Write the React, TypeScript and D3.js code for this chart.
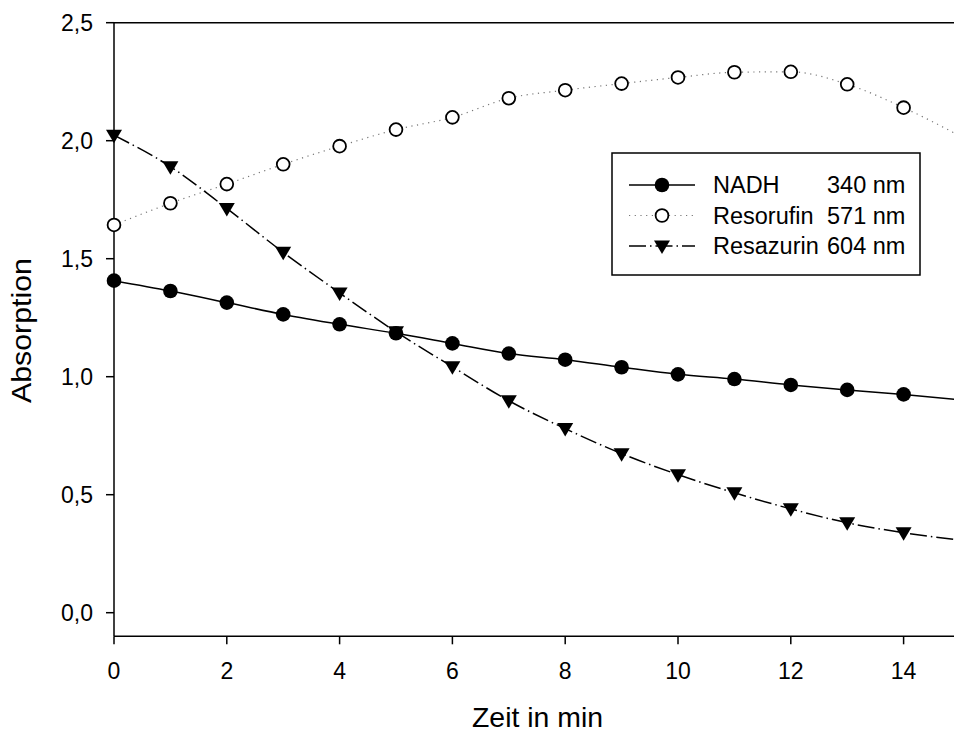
import React from "react";
import * as d3 from "d3";

const times = [0, 1, 2, 3, 4, 5, 6, 7, 8, 9, 10, 11, 12, 13, 14, 15];
const nadh = [1.407, 1.363, 1.314, 1.264, 1.222, 1.184, 1.141, 1.098, 1.072, 1.04, 1.01, 0.99, 0.965, 0.944, 0.925, 0.902];
const resorufin = [1.643, 1.735, 1.816, 1.9, 1.977, 2.047, 2.099, 2.18, 2.214, 2.242, 2.268, 2.29, 2.292, 2.239, 2.14, 2.02];
const resazurin = [2.023, 1.89, 1.713, 1.527, 1.355, 1.19, 1.042, 0.898, 0.78, 0.674, 0.585, 0.508, 0.44, 0.381, 0.339, 0.308];
const xTicks = [0, 2, 4, 6, 8, 10, 12, 14];
const yTicks = [0, 0.5, 1.0, 1.5, 2.0, 2.5];
const legendNames = ["NADH", "Resorufin", "Resazurin"];
const legendWaves = ["340 nm", "571 nm", "604 nm"];

const W = 954;
const H = 734;
const FONT = "'Liberation Sans', Arial, sans-serif";

export default function App() {
  const x = d3.scaleLinear().domain([0, 15]).range([114, 960]);
  const y = d3.scaleLinear().domain([-0.1, 2.5]).range([636.3, 22.7]);
  const fmt = (v: number) => d3.format(".1f")(v).replace(".", ",");

  const mk = (vals: number[]) =>
    d3
      .line<number>()
      .x((_, i) => x(times[i]))
      .y((v) => y(v))
      .curve(d3.curveMonotoneX)(vals) as string;

  const series = [
    { name: "nadh", vals: nadh, dash: undefined as string | undefined, stroke: "#000", sw: 1.5, marker: "dot" },
    { name: "resorufin", vals: resorufin, dash: "1.2,4.5", stroke: "#777", sw: 1.2, marker: "open" },
    { name: "resazurin", vals: resazurin, dash: "17,4,1.5,4", stroke: "#000", sw: 1.5, marker: "tri" },
  ];

  const marker = (kind: string, cx: number, cy: number, key: string) => {
    if (kind === "dot") return <circle key={key} cx={cx} cy={cy} r={7.3} fill="#000" />;
    if (kind === "open")
      return <circle key={key} cx={cx} cy={cy} r={6.4} fill="#fff" stroke="#000" strokeWidth={1.8} />;
    const s = 8;
    return (
      <path
        key={key}
        d={`M${cx - s},${cy - 5.5} L${cx + s},${cy - 5.5} L${cx},${cy + 8} Z`}
        fill="#000"
      />
    );
  };

  const x0 = 114;
  const yAxisBottom = y(-0.1);
  const yTop = y(2.5);

  const legX = 612, legY = 153, legW = 308, legH = 122;
  const rowY = [185, 215.5, 246];

  return (
    <svg
      width={W}
      height={H}
      style={{ position: "absolute", left: 0, top: 0, background: "#fff" }}
      fontFamily={FONT}
    >
      <defs>
        <clipPath id="plot">
          <rect x={x0} y={yTop - 2} width={W - x0} height={yAxisBottom - yTop + 2} />
        </clipPath>
      </defs>
      <rect x={0} y={0} width={W} height={H} fill="#fff" />

      {/* frame lines */}
      <line x1={x0} x2={W} y1={yTop} y2={yTop} stroke="#000" strokeWidth={1.5} />
      <line x1={x0} x2={x0} y1={yTop} y2={yAxisBottom} stroke="#000" strokeWidth={1.5} />
      <line x1={x0} x2={W} y1={yAxisBottom} y2={yAxisBottom} stroke="#000" strokeWidth={1.5} />

      {/* y ticks */}
      {yTicks.map((t) => (
        <g key={"y" + t}>
          <line x1={x0 - 8} x2={x0} y1={y(t)} y2={y(t)} stroke="#000" strokeWidth={1.5} />
          <text x={93} y={y(t) + 8.3} textAnchor="end" fontSize={23} fill="#000">
            {fmt(t)}
          </text>
        </g>
      ))}

      {/* x ticks */}
      {xTicks.map((t) => (
        <g key={"x" + t}>
          <line x1={x(t)} x2={x(t)} y1={yAxisBottom} y2={yAxisBottom + 8} stroke="#000" strokeWidth={1.5} />
          <text x={x(t)} y={679} textAnchor="middle" fontSize={23} fill="#000">
            {t}
          </text>
        </g>
      ))}

      {/* axis titles */}
      <text
        x={537.5}
        y={727}
        textAnchor="middle"
        fontSize={28}
        textLength={131}
        lengthAdjust="spacingAndGlyphs"
        fill="#000"
      >
        Zeit in min
      </text>
      <text
        transform={`translate(31,330.5) rotate(-90)`}
        textAnchor="middle"
        fontSize={28}
        textLength={145}
        lengthAdjust="spacingAndGlyphs"
        fill="#000"
      >
        Absorption
      </text>

      {/* series */}
      <g clipPath="url(#plot)">
        {series.map((s) => (
          <path
            key={s.name}
            d={mk(s.vals)}
            fill="none"
            stroke={s.stroke}
            strokeWidth={s.sw}
            strokeDasharray={s.dash}
          />
        ))}
      </g>
      <g>
        {series.map((s) =>
          s.vals.map((v, i) =>
            times[i] <= 14 ? marker(s.marker, x(times[i]), y(v), s.name + i) : null
          )
        )}
      </g>

      {/* legend */}
      <rect x={legX} y={legY} width={legW} height={legH} fill="#fff" stroke="#000" strokeWidth={1.5} />
      {series.map((s, i) => (
        <g key={"leg" + i}>
          <line
            x1={629}
            x2={695}
            y1={rowY[i]}
            y2={rowY[i]}
            stroke={s.stroke}
            strokeWidth={s.sw}
            strokeDasharray={s.dash}
          />
          {marker(s.marker, 662, rowY[i], "lm" + i)}
          <text x={713} y={rowY[i] + 8.3} fontSize={23.5} fill="#000">
            {legendNames[i]}
          </text>
          <text x={827} y={rowY[i] + 8.3} fontSize={23.5} fill="#000">
            {legendWaves[i]}
          </text>
        </g>
      ))}
    </svg>
  );
}
